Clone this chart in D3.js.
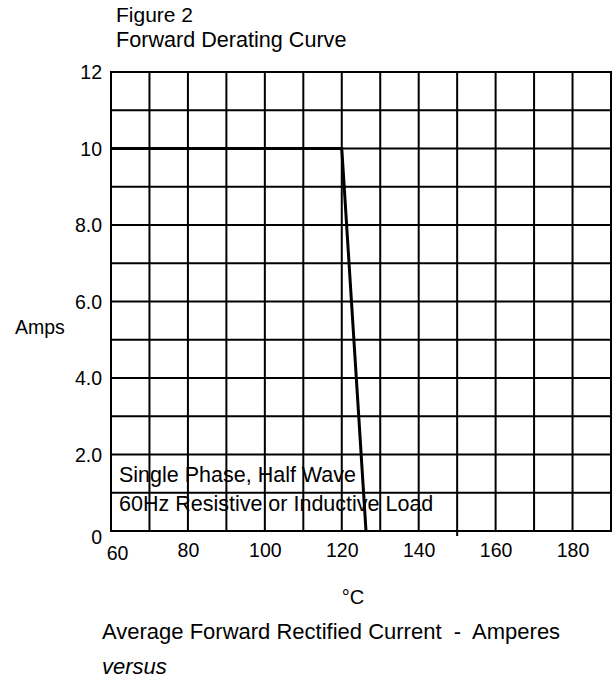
<!DOCTYPE html>
<html>
<head>
<meta charset="utf-8">
<script src="https://cdn.jsdelivr.net/npm/d3@7"></script>
<style>
  body { margin: 0; background: #fff; }
  text { font-family: Arial, "Liberation Sans", sans-serif; fill: #000; }
</style>
</head>
<body>
<div id="chart"></div>
<script>
// dati
const tempC = [60, 120, 126.3];
const amps = [10, 10, 0];
const xTicks = [60, 80, 100, 120, 140, 160, 180];
const yTicks = [0, 2, 4, 6, 8, 10, 12];
const yTickLabels = ["0", "2.0", "4.0", "6.0", "8.0", "10", "12"];
const gridX = d3.range(60, 191, 10);
const gridY = d3.range(0, 13, 1);

const width = 613, height = 683;

const svg = d3.select("#chart").append("svg")
  .attr("width", width)
  .attr("height", height);

const x = d3.scaleLinear().domain([60, 190]).range([111, 611]);
const y = d3.scaleLinear().domain([0, 12]).range([531, 72]);

// griglia
svg.append("g").selectAll("line.v")
  .data(gridX)
  .enter().append("line")
  .attr("x1", d => x(d)).attr("x2", d => x(d))
  .attr("y1", y(12) - 1).attr("y2", d => d === 150 ? y(0) + 5 : y(0) + 1)
  .attr("stroke", "#000")
  .attr("stroke-width", 2);

svg.append("g").selectAll("line.h")
  .data(gridY)
  .enter().append("line")
  .attr("x1", x(60) - 1).attr("x2", x(190) + 1)
  .attr("y1", d => y(d)).attr("y2", d => y(d))
  .attr("stroke", "#000")
  .attr("stroke-width", 2);

// curva di derating
const line = d3.line().x(d => x(d[0])).y(d => y(d[1]));
svg.append("path")
  .datum(d3.zip(tempC, amps))
  .attr("d", line)
  .attr("fill", "none")
  .attr("stroke", "#000")
  .attr("stroke-width", 3);

// etichette asse y
const yAxis = svg.append("g")
  .attr("transform", `translate(${x(60) - 9},0)`)
  .call(d3.axisLeft(y).tickValues(yTicks).tickSize(0).tickPadding(0)
    .tickFormat((d, i) => yTickLabels[i]));
yAxis.select(".domain").remove();
yAxis.selectAll("text")
  .style("font-size", "19.5px")
  .attr("font-family", null)
  .attr("dy", d => d === 0 ? "0.62em" : "0.35em");

// etichette asse x
const xAxis = svg.append("g")
  .attr("transform", `translate(0,${y(0) + 11})`)
  .call(d3.axisBottom(x).tickValues(xTicks).tickSize(0).tickPadding(0));
xAxis.select(".domain").remove();
xAxis.selectAll("text")
  .style("font-size", "19.5px")
  .attr("font-family", null)
  .attr("x", d => d === 60 ? 6 : 0)
  .attr("dy", d => d === 60 ? "0.92em" : "0.75em");

// testi
svg.append("text").attr("x", 116).attr("y", 22).style("font-size", "21px").text("Figure 2");
svg.append("text").attr("x", 116).attr("y", 47).style("font-size", "21.6px").text("Forward Derating Curve");
svg.append("text").attr("x", 15).attr("y", 334).style("font-size", "19.5px").text("Amps");

svg.append("text").attr("x", 119).attr("y", 482).style("font-size", "21.5px").text("Single Phase, Half Wave");
svg.append("text").attr("x", 119).attr("y", 510.5).style("font-size", "21.5px").text("60Hz Resistive or Inductive Load");

svg.append("text").attr("x", 353).attr("y", 604).attr("text-anchor", "middle").style("font-size", "20px").text("°C");
svg.append("text").attr("x", 102).attr("y", 639).style("font-size", "22px").attr("xml:space", "preserve")
  .style("white-space", "pre").text("Average Forward Rectified Current  -  Amperes");
svg.append("text").attr("x", 102).attr("y", 674).style("font-size", "22px").style("font-style", "italic").text("versus");
</script>
</body>
</html>
